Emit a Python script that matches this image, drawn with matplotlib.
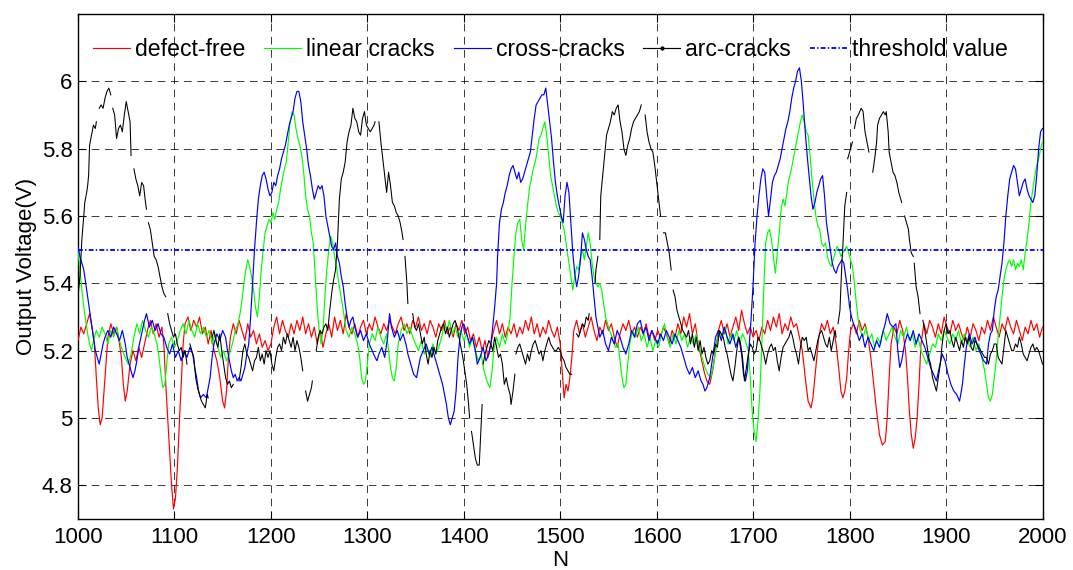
import numpy as np
import matplotlib
matplotlib.use("Agg")
import matplotlib.pyplot as plt
from matplotlib.ticker import FuncFormatter
from matplotlib.lines import Line2D

nan = float("nan")

# ---------------- data (N, output voltage) ----------------
defect_free = [
    (1000, 5.23), (1003, 5.27), (1006, 5.25), (1009, 5.28), (1012, 5.31), (1015, 5.26), (1017, 5.22),
    (1019, 5.12), (1021, 5.03), (1023, 4.98), (1025, 5.00), (1027, 5.08), (1029, 5.16), (1031, 5.24),
    (1034, 5.28), (1037, 5.25), (1040, 5.27), (1043, 5.22), (1045, 5.18), (1047, 5.10), (1049, 5.05),
    (1051, 5.08), (1054, 5.16), (1057, 5.20), (1060, 5.17), (1063, 5.21), (1066, 5.18), (1069, 5.22),
    (1072, 5.26), (1075, 5.29), (1078, 5.25), (1081, 5.28), (1084, 5.24), (1087, 5.27), (1089, 5.22),
    (1091, 5.10), (1093, 5.00), (1095, 4.90), (1097, 4.80), (1099, 4.73), (1101, 4.76), (1103, 4.85),
    (1105, 4.98), (1107, 5.10), (1109, 5.22), (1111, 5.28), (1114, 5.30), (1117, 5.26), (1120, 5.29),
    (1123, 5.27), (1126, 5.30), (1129, 5.25), (1132, 5.27), (1135, 5.22), (1138, 5.26), (1141, 5.20),
    (1144, 5.17), (1147, 5.12), (1150, 5.05), (1152, 5.03), (1154, 5.08), (1156, 5.18), (1158, 5.24),
    (1161, 5.28), (1164, 5.25), (1167, 5.29), (1170, 5.26), (1173, 5.23), (1176, 5.28), (1179, 5.24),
    (1182, 5.26), (1185, 5.22), (1188, 5.25), (1191, 5.21), (1194, 5.23), (1197, 5.20), (1200, 5.22),
    (1203, 5.27), (1206, 5.30), (1209, 5.25), (1212, 5.29), (1215, 5.26), (1218, 5.24), (1221, 5.28),
    (1224, 5.25), (1227, 5.29), (1230, 5.26), (1233, 5.30), (1236, 5.25), (1239, 5.28), (1242, 5.24),
    (1245, 5.27), (1248, 5.22), (1251, 5.26), (1254, 5.21), (1257, 5.25), (1260, 5.28), (1263, 5.24),
    (1266, 5.30), (1269, 5.26), (1272, 5.29), (1275, 5.25), (1278, 5.31), (1281, 5.27), (1284, 5.25),
    (1287, 5.28), (1290, 5.24), (1293, 5.27), (1296, 5.29), (1299, 5.25), (1302, 5.28), (1305, 5.26),
    (1308, 5.30), (1311, 5.27), (1314, 5.25), (1317, 5.28), (1320, 5.26), (1323, 5.29), (1326, 5.27),
    (1329, 5.25), (1332, 5.28), (1335, 5.30), (1338, 5.26), (1341, 5.28), (1344, 5.25), (1347, 5.29),
    (1350, 5.27), (1353, 5.30), (1356, 5.26), (1359, 5.28), (1362, 5.25), (1365, 5.29), (1368, 5.27),
    (1371, 5.24), (1374, 5.28), (1377, 5.26), (1380, 5.29), (1383, 5.25), (1386, 5.27), (1389, 5.24),
    (1392, 5.28), (1395, 5.26), (1398, 5.29), (1401, 5.25), (1404, 5.27), (1407, 5.23), (1410, 5.25),
    (1413, 5.21), (1416, 5.24), (1419, 5.20), (1422, 5.23), (1425, 5.18), (1428, 5.22), (1431, 5.26),
    (1434, 5.29), (1437, 5.25), (1440, 5.28), (1443, 5.24), (1446, 5.27), (1449, 5.25), (1452, 5.28),
    (1455, 5.24), (1458, 5.27), (1461, 5.25), (1464, 5.29), (1467, 5.26), (1470, 5.30), (1473, 5.25),
    (1476, 5.28), (1479, 5.24), (1482, 5.27), (1485, 5.25), (1488, 5.29), (1491, 5.26), (1494, 5.24),
    (1497, 5.27), (1500, 5.22), (1502, 5.14), (1504, 5.06), (1506, 5.10), (1508, 5.08), (1510, 5.12),
    (1512, 5.18), (1514, 5.26), (1517, 5.29), (1520, 5.25), (1523, 5.28), (1526, 5.24), (1529, 5.27),
    (1532, 5.30), (1535, 5.26), (1538, 5.23), (1541, 5.27), (1544, 5.25), (1547, 5.29), (1550, 5.26),
    (1553, 5.28), (1556, 5.24), (1559, 5.21), (1562, 5.25), (1565, 5.28), (1568, 5.26), (1571, 5.29),
    (1574, 5.25), (1577, 5.27), (1580, 5.24), (1583, 5.27), (1586, 5.25), (1589, 5.28), (1592, 5.24),
    (1595, 5.26), (1598, 5.23), (1601, 5.26), (1604, 5.24), (1607, 5.27), (1610, 5.25), (1613, 5.22),
    (1616, 5.26), (1619, 5.24), (1622, 5.28), (1625, 5.25), (1628, 5.30), (1631, 5.27), (1634, 5.31),
    (1637, 5.25), (1640, 5.28), (1643, 5.22), (1646, 5.18), (1649, 5.14), (1652, 5.11), (1655, 5.10),
    (1658, 5.14), (1661, 5.20), (1664, 5.26), (1667, 5.29), (1670, 5.25), (1673, 5.28), (1676, 5.24),
    (1679, 5.27), (1682, 5.30), (1685, 5.26), (1688, 5.32), (1691, 5.28), (1694, 5.25), (1697, 5.27),
    (1700, 5.24), (1703, 5.26), (1706, 5.23), (1709, 5.27), (1712, 5.25), (1715, 5.29), (1718, 5.26),
    (1721, 5.30), (1724, 5.27), (1727, 5.31), (1730, 5.25), (1733, 5.28), (1736, 5.26), (1739, 5.30),
    (1742, 5.27), (1745, 5.28), (1748, 5.24), (1751, 5.20), (1754, 5.12), (1757, 5.05), (1760, 5.03),
    (1762, 5.06), (1765, 5.15), (1768, 5.24), (1771, 5.28), (1774, 5.26), (1777, 5.29), (1780, 5.25),
    (1783, 5.27), (1786, 5.22), (1789, 5.14), (1791, 5.08), (1793, 5.06), (1795, 5.08), (1797, 5.12),
    (1799, 5.20), (1801, 5.26), (1804, 5.28), (1807, 5.25), (1810, 5.29), (1813, 5.26), (1816, 5.28),
    (1819, 5.24), (1822, 5.18), (1825, 5.10), (1828, 5.02), (1831, 4.95), (1834, 4.92), (1837, 4.93),
    (1839, 5.00), (1841, 5.12), (1843, 5.22), (1846, 5.27), (1849, 5.25), (1852, 5.29), (1855, 5.26),
    (1858, 5.20), (1860, 5.12), (1862, 5.02), (1864, 4.95), (1866, 4.91), (1868, 4.94), (1870, 5.00),
    (1872, 5.10), (1874, 5.22), (1877, 5.28), (1880, 5.25), (1883, 5.29), (1886, 5.27), (1889, 5.24),
    (1892, 5.28), (1895, 5.25), (1898, 5.30), (1901, 5.27), (1904, 5.25), (1907, 5.29), (1910, 5.26),
    (1913, 5.28), (1916, 5.25), (1919, 5.23), (1922, 5.27), (1925, 5.24), (1928, 5.28), (1931, 5.26),
    (1934, 5.23), (1937, 5.27), (1940, 5.25), (1943, 5.29), (1946, 5.26), (1949, 5.30), (1952, 5.27),
    (1955, 5.24), (1958, 5.28), (1961, 5.26), (1964, 5.30), (1967, 5.27), (1970, 5.25), (1973, 5.29),
    (1976, 5.26), (1979, 5.23), (1982, 5.27), (1985, 5.25), (1988, 5.29), (1991, 5.26), (1994, 5.28),
    (1997, 5.24), (2000, 5.27),
]

linear_cracks = [
    (1000, 5.50), (1002, 5.44), (1004, 5.38), (1006, 5.33), (1008, 5.29), (1010, 5.25), (1012, 5.22),
    (1014, 5.20), (1016, 5.23), (1019, 5.26), (1022, 5.24), (1025, 5.27), (1028, 5.25), (1031, 5.22),
    (1034, 5.26), (1037, 5.24), (1040, 5.27), (1043, 5.23), (1046, 5.20), (1049, 5.18), (1052, 5.16),
    (1055, 5.19), (1058, 5.24), (1061, 5.28), (1064, 5.25), (1067, 5.29), (1070, 5.26), (1073, 5.24),
    (1076, 5.27), (1079, 5.25), (1082, 5.22), (1084, 5.18), (1086, 5.13), (1088, 5.09), (1090, 5.10),
    (1092, 5.16), (1094, 5.22), (1097, 5.24), (1100, 5.21), (1103, 5.23), (1106, 5.26), (1109, 5.28),
    (1112, 5.25), (1115, 5.29), (1118, 5.26), (1121, 5.24), (1124, 5.28), (1127, 5.25), (1130, 5.27),
    (1133, 5.24), (1136, 5.26), (1139, 5.22), (1142, 5.25), (1145, 5.21), (1148, 5.18), (1151, 5.20),
    (1154, 5.17), (1157, 5.19), (1160, 5.22), (1163, 5.26), (1166, 5.28), (1168, 5.31), (1170, 5.35),
    (1172, 5.40), (1174, 5.44), (1176, 5.47), (1178, 5.45), (1180, 5.42), (1182, 5.38), (1184, 5.33),
    (1186, 5.30), (1188, 5.36), (1190, 5.44), (1192, 5.50), (1194, 5.55), (1196, 5.57), (1198, 5.59),
    (1200, 5.58), (1202, 5.61), (1204, 5.59), (1206, 5.62), (1208, 5.64), (1210, 5.68), (1212, 5.71),
    (1214, 5.74), (1216, 5.76), (1218, 5.82), (1220, 5.88), (1222, 5.91), (1224, 5.90), (1226, 5.86),
    (1228, 5.83), (1230, 5.81), (1232, 5.78), (1234, 5.73), (1236, 5.66), (1238, 5.62), (1240, 5.60),
    (1242, 5.55), (1244, 5.52), (1246, 5.42), (1248, 5.33), (1250, 5.26), (1252, 5.22), (1254, 5.26),
    (1256, 5.36), (1258, 5.44), (1260, 5.50), (1262, 5.54), (1264, 5.52), (1266, 5.48), (1268, 5.45),
    (1270, 5.41), (1272, 5.37), (1274, 5.34), (1276, 5.30), (1278, 5.26), (1281, 5.24), (1284, 5.27),
    (1287, 5.25), (1290, 5.22), (1292, 5.18), (1294, 5.12), (1296, 5.10), (1298, 5.11), (1300, 5.16),
    (1302, 5.22), (1305, 5.25), (1308, 5.23), (1311, 5.27), (1314, 5.24), (1317, 5.22), (1320, 5.25),
    (1322, 5.20), (1324, 5.15), (1326, 5.12), (1328, 5.11), (1330, 5.15), (1332, 5.22), (1335, 5.26),
    (1338, 5.28), (1341, 5.25), (1344, 5.27), (1347, 5.24), (1350, 5.22), (1353, 5.20), (1356, 5.23),
    (1359, 5.19), (1362, 5.21), (1365, 5.18), (1368, 5.22), (1371, 5.19), (1374, 5.21), (1377, 5.24),
    (1380, 5.28), (1383, 5.26), (1385, 5.29), (1388, 5.25), (1391, 5.27), (1394, 5.24), (1397, 5.26),
    (1400, 5.23), (1403, 5.25), (1406, 5.21), (1409, 5.24), (1412, 5.20), (1415, 5.17), (1418, 5.19),
    (1421, 5.14), (1424, 5.11), (1427, 5.09), (1429, 5.13), (1431, 5.20), (1434, 5.24), (1437, 5.21),
    (1440, 5.25), (1443, 5.22), (1446, 5.26), (1448, 5.30), (1450, 5.40), (1452, 5.48), (1454, 5.55),
    (1456, 5.58), (1458, 5.59), (1460, 5.53), (1462, 5.50), (1464, 5.57), (1466, 5.63), (1468, 5.68),
    (1470, 5.71), (1472, 5.74), (1474, 5.76), (1476, 5.79), (1478, 5.83), (1480, 5.84), (1482, 5.86),
    (1484, 5.88), (1486, 5.84), (1488, 5.78), (1490, 5.72), (1492, 5.69), (1494, 5.66), (1496, 5.63),
    (1498, 5.61), (1500, 5.60), (1502, 5.58), (1504, 5.56), (1506, 5.52), (1508, 5.48), (1510, 5.44),
    (1512, 5.40), (1513, 5.38), (1515, 5.42), (1517, 5.45), (1519, 5.44), (1521, 5.48), (1523, 5.50),
    (1525, 5.47), (1527, 5.51), (1529, 5.55), (1531, 5.52), (1533, 5.46), (1535, 5.42), (1537, 5.40),
    (1539, 5.39), (1541, 5.40), (1543, 5.38), (1545, 5.34), (1547, 5.30), (1549, 5.28), (1551, 5.26),
    (1554, 5.24), (1557, 5.21), (1560, 5.22), (1562, 5.17), (1564, 5.12), (1566, 5.09), (1568, 5.10),
    (1570, 5.16), (1572, 5.22), (1575, 5.26), (1578, 5.24), (1581, 5.27), (1584, 5.23), (1587, 5.25),
    (1590, 5.21), (1593, 5.24), (1596, 5.20), (1599, 5.23), (1602, 5.21), (1605, 5.25), (1608, 5.28),
    (1611, 5.24), (1614, 5.21), (1617, 5.25), (1620, 5.22), (1623, 5.26), (1626, 5.23), (1629, 5.25),
    (1632, 5.21), (1635, 5.24), (1638, 5.22), (1641, 5.25), (1644, 5.21), (1647, 5.18), (1650, 5.15),
    (1653, 5.13), (1656, 5.12), (1659, 5.16), (1662, 5.22), (1665, 5.26), (1668, 5.24), (1671, 5.27),
    (1674, 5.22), (1677, 5.25), (1680, 5.23), (1683, 5.26), (1686, 5.22), (1689, 5.25), (1692, 5.23),
    (1695, 5.20), (1697, 5.12), (1699, 5.02), (1701, 4.96), (1703, 4.93), (1705, 4.99), (1707, 5.08),
    (1709, 5.22), (1711, 5.38), (1713, 5.52), (1715, 5.55), (1717, 5.56), (1719, 5.53), (1721, 5.48),
    (1723, 5.43), (1725, 5.49), (1727, 5.55), (1729, 5.62), (1731, 5.65), (1733, 5.63), (1735, 5.67),
    (1737, 5.71), (1739, 5.73), (1741, 5.76), (1743, 5.79), (1745, 5.82), (1747, 5.85), (1749, 5.88),
    (1751, 5.90), (1753, 5.88), (1755, 5.85), (1757, 5.84), (1759, 5.78), (1761, 5.71), (1763, 5.65),
    (1765, 5.60), (1767, 5.57), (1769, 5.56), (1771, 5.52), (1773, 5.51), (1775, 5.52), (1777, 5.48),
    (1779, 5.46), (1781, 5.45), (1783, 5.47), (1785, 5.49), (1787, 5.51), (1789, 5.50), (1791, 5.48),
    (1793, 5.49), (1795, 5.50), (1797, 5.51), (1799, 5.49), (1801, 5.47), (1803, 5.45), (1805, 5.40),
    (1807, 5.34), (1809, 5.29), (1811, 5.26), (1814, 5.24), (1817, 5.27), (1820, 5.23), (1823, 5.25),
    (1826, 5.21), (1829, 5.24), (1832, 5.22), (1835, 5.26), (1838, 5.23), (1841, 5.25), (1844, 5.27),
    (1847, 5.24), (1850, 5.22), (1853, 5.26), (1856, 5.24), (1859, 5.27), (1862, 5.23), (1865, 5.25),
    (1868, 5.21), (1871, 5.24), (1874, 5.20), (1877, 5.18), (1880, 5.16), (1883, 5.19), (1886, 5.22),
    (1889, 5.21), (1892, 5.25), (1895, 5.23), (1898, 5.26), (1901, 5.24), (1904, 5.22), (1907, 5.25),
    (1910, 5.23), (1913, 5.26), (1916, 5.22), (1919, 5.25), (1922, 5.23), (1925, 5.21), (1928, 5.24),
    (1931, 5.20), (1934, 5.22), (1937, 5.18), (1940, 5.14), (1942, 5.10), (1944, 5.06), (1946, 5.05),
    (1948, 5.07), (1950, 5.12), (1952, 5.17), (1954, 5.24), (1956, 5.30), (1958, 5.36), (1960, 5.41),
    (1962, 5.44), (1964, 5.46), (1966, 5.47), (1968, 5.45), (1970, 5.47), (1972, 5.44), (1974, 5.46),
    (1976, 5.45), (1978, 5.47), (1980, 5.44), (1982, 5.49), (1984, 5.53), (1986, 5.58), (1988, 5.64),
    (1990, 5.68), (1992, 5.72), (1994, 5.75), (1996, 5.77), (1998, 5.80), (2000, 5.82),
]

cross_cracks = [
    (1000, 5.51), (1002, 5.48), (1004, 5.46), (1006, 5.44), (1008, 5.40), (1010, 5.36), (1012, 5.32),
    (1014, 5.28), (1016, 5.24), (1018, 5.20), (1020, 5.18), (1022, 5.16), (1024, 5.19), (1026, 5.22),
    (1028, 5.24), (1031, 5.26), (1034, 5.24), (1037, 5.27), (1040, 5.25), (1043, 5.23), (1046, 5.26),
    (1049, 5.22), (1051, 5.18), (1053, 5.16), (1055, 5.14), (1057, 5.12), (1059, 5.14), (1061, 5.17),
    (1063, 5.21), (1066, 5.25), (1069, 5.29), (1071, 5.31), (1074, 5.27), (1077, 5.29), (1080, 5.26),
    (1083, 5.28), (1086, 5.25), (1089, 5.24), (1092, 5.21), (1095, 5.19), (1098, 5.22), (1101, 5.18),
    (1104, 5.20), (1107, 5.17), (1110, 5.20), (1113, 5.18), (1116, 5.21), (1119, 5.19), (1121, 5.15),
    (1123, 5.12), (1125, 5.08), (1127, 5.06), (1130, 5.07), (1133, 5.06), (1135, 5.09), (1137, 5.12),
    (1139, 5.18), (1141, 5.22), (1144, 5.25), (1147, 5.23), (1150, 5.26), (1153, 5.24), (1155, 5.20),
    (1157, 5.17), (1159, 5.14), (1161, 5.12), (1163, 5.13), (1165, 5.11), (1167, 5.12), (1169, 5.11),
    (1171, 5.13), (1173, 5.15), (1175, 5.19), (1177, 5.22), (1179, 5.30), (1181, 5.40), (1183, 5.50),
    (1185, 5.58), (1187, 5.65), (1189, 5.69), (1191, 5.72), (1193, 5.73), (1195, 5.71), (1197, 5.68),
    (1199, 5.66), (1201, 5.67), (1203, 5.70), (1205, 5.69), (1207, 5.72), (1209, 5.74), (1211, 5.77),
    (1213, 5.79), (1215, 5.81), (1217, 5.84), (1219, 5.87), (1221, 5.89), (1223, 5.91), (1225, 5.95),
    (1227, 5.97), (1229, 5.97), (1231, 5.94), (1233, 5.88), (1235, 5.84), (1237, 5.80), (1239, 5.75),
    (1241, 5.72), (1243, 5.68), (1245, 5.65), (1247, 5.67), (1249, 5.69), (1251, 5.68), (1253, 5.69),
    (1255, 5.66), (1257, 5.60), (1259, 5.57), (1261, 5.54), (1263, 5.51), (1265, 5.50), (1267, 5.52),
    (1269, 5.48), (1271, 5.46), (1273, 5.42), (1275, 5.39), (1277, 5.34), (1279, 5.30), (1281, 5.27),
    (1283, 5.29), (1285, 5.30), (1287, 5.27), (1290, 5.24), (1293, 5.26), (1296, 5.23), (1299, 5.25),
    (1302, 5.22), (1305, 5.20), (1308, 5.18), (1310, 5.17), (1312, 5.19), (1315, 5.21), (1318, 5.18),
    (1321, 5.24), (1323, 5.31), (1325, 5.27), (1328, 5.24), (1331, 5.26), (1334, 5.23), (1337, 5.25),
    (1340, 5.22), (1342, 5.19), (1344, 5.17), (1346, 5.15), (1348, 5.13), (1351, 5.12), (1353, 5.15),
    (1355, 5.18), (1358, 5.20), (1361, 5.22), (1364, 5.19), (1367, 5.21), (1370, 5.18), (1372, 5.16),
    (1374, 5.14), (1376, 5.12), (1378, 5.10), (1380, 5.07), (1382, 5.04), (1384, 5.00), (1386, 4.98),
    (1388, 5.00), (1390, 5.02), (1392, 5.08), (1394, 5.18), (1396, 5.24), (1398, 5.27), (1400, 5.28),
    (1403, 5.25), (1406, 5.22), (1409, 5.24), (1412, 5.20), (1414, 5.16), (1417, 5.18), (1420, 5.21),
    (1423, 5.17), (1426, 5.19), (1428, 5.22), (1430, 5.27), (1432, 5.33), (1434, 5.40), (1435, 5.48),
    (1437, 5.58), (1439, 5.62), (1441, 5.64), (1443, 5.67), (1445, 5.69), (1447, 5.72), (1449, 5.74),
    (1451, 5.75), (1453, 5.73), (1455, 5.71), (1457, 5.73), (1459, 5.70), (1461, 5.71), (1463, 5.73),
    (1465, 5.75), (1467, 5.77), (1469, 5.79), (1471, 5.84), (1473, 5.89), (1475, 5.93), (1477, 5.94),
    (1479, 5.95), (1481, 5.96), (1483, 5.96), (1485, 5.98), (1487, 5.93), (1489, 5.88), (1491, 5.83),
    (1493, 5.76), (1495, 5.70), (1497, 5.66), (1499, 5.63), (1501, 5.60), (1503, 5.58), (1505, 5.66),
    (1507, 5.70), (1509, 5.67), (1511, 5.58), (1513, 5.49), (1515, 5.43), (1517, 5.39), (1519, 5.42),
    (1521, 5.47), (1523, 5.55), (1525, 5.53), (1527, 5.50), (1529, 5.48), (1531, 5.47), (1533, 5.42),
    (1535, 5.36), (1537, 5.30), (1539, 5.27), (1541, 5.24), (1544, 5.26), (1547, 5.22), (1550, 5.20),
    (1553, 5.24), (1556, 5.22), (1559, 5.26), (1562, 5.24), (1565, 5.21), (1568, 5.19), (1571, 5.22),
    (1574, 5.26), (1577, 5.24), (1580, 5.28), (1583, 5.29), (1586, 5.25), (1589, 5.27), (1592, 5.23),
    (1595, 5.26), (1598, 5.24), (1601, 5.22), (1604, 5.25), (1607, 5.23), (1610, 5.26), (1613, 5.24),
    (1616, 5.22), (1619, 5.25), (1622, 5.23), (1625, 5.21), (1628, 5.18), (1631, 5.15), (1634, 5.13),
    (1637, 5.15), (1640, 5.12), (1643, 5.14), (1646, 5.11), (1648, 5.10), (1650, 5.08), (1652, 5.09),
    (1655, 5.12), (1658, 5.18), (1661, 5.24), (1664, 5.26), (1667, 5.23), (1670, 5.27), (1673, 5.24),
    (1676, 5.22), (1679, 5.25), (1682, 5.21), (1685, 5.24), (1688, 5.19), (1690, 5.13), (1692, 5.11),
    (1694, 5.14), (1696, 5.22), (1698, 5.30), (1700, 5.40), (1702, 5.52), (1704, 5.60), (1706, 5.66),
    (1708, 5.71), (1710, 5.74), (1712, 5.73), (1714, 5.66), (1716, 5.60), (1718, 5.65), (1720, 5.70),
    (1722, 5.72), (1724, 5.73), (1726, 5.75), (1728, 5.77), (1730, 5.80), (1732, 5.83), (1734, 5.86),
    (1736, 5.88), (1738, 5.91), (1740, 5.95), (1742, 5.98), (1744, 6.00), (1746, 6.03), (1748, 6.04),
    (1750, 6.00), (1752, 5.93), (1754, 5.85), (1756, 5.78), (1758, 5.72), (1760, 5.66), (1762, 5.62),
    (1764, 5.64), (1766, 5.67), (1768, 5.69), (1770, 5.71), (1772, 5.72), (1774, 5.66), (1776, 5.58),
    (1778, 5.54), (1780, 5.50), (1782, 5.46), (1784, 5.44), (1786, 5.43), (1788, 5.45), (1790, 5.46),
    (1792, 5.47), (1794, 5.46), (1796, 5.42), (1798, 5.38), (1800, 5.33), (1802, 5.30), (1804, 5.28),
    (1807, 5.26), (1810, 5.23), (1813, 5.25), (1816, 5.21), (1819, 5.24), (1822, 5.22), (1825, 5.20),
    (1828, 5.23), (1831, 5.21), (1834, 5.25), (1837, 5.28), (1839, 5.31), (1842, 5.28), (1845, 5.27),
    (1848, 5.28), (1850, 5.20), (1852, 5.15), (1854, 5.17), (1857, 5.22), (1860, 5.25), (1863, 5.23),
    (1866, 5.26), (1869, 5.22), (1872, 5.25), (1875, 5.23), (1878, 5.21), (1881, 5.18), (1884, 5.15),
    (1887, 5.13), (1890, 5.11), (1893, 5.15), (1896, 5.19), (1899, 5.17), (1902, 5.13), (1905, 5.10),
    (1908, 5.08), (1911, 5.07), (1914, 5.05), (1917, 5.10), (1919, 5.16), (1921, 5.21), (1924, 5.25),
    (1927, 5.22), (1930, 5.24), (1933, 5.21), (1936, 5.19), (1939, 5.17), (1942, 5.16), (1944, 5.22),
    (1946, 5.25), (1948, 5.26), (1950, 5.32), (1952, 5.36), (1954, 5.38), (1956, 5.42), (1958, 5.46),
    (1960, 5.52), (1962, 5.60), (1964, 5.66), (1966, 5.71), (1968, 5.73), (1970, 5.75), (1972, 5.74),
    (1974, 5.70), (1976, 5.66), (1978, 5.68), (1980, 5.70), (1982, 5.71), (1984, 5.68), (1986, 5.66),
    (1988, 5.65), (1990, 5.64), (1992, 5.66), (1994, 5.72), (1996, 5.80), (1998, 5.85), (2000, 5.86),
]

# arc-cracks trace has breaks in the recording (nan = missing sample)
arc_cracks = [
    (1000, 5.36), (1002, 5.42), (1004, 5.53), (1006, 5.60), (1007, 5.64), (1009, 5.67), (1010, 5.69),
    (1011, 5.72), (1012, 5.81), (1014, 5.84), (1016, 5.87), (1018, 5.86), (1019, 5.88), (1020.5, nan),
    (1022, 5.92), (1024, 5.93), (1026, 5.92), (1028, 5.95), (1030, 5.97), (1032, 5.98), (1034, 5.96),
    (1035, nan), (1036, 5.92), (1038, 5.90), (1040, 5.83), (1042, 5.86), (1044, 5.87), (1046, 5.85),
    (1048, 5.90), (1050, 5.94), (1052, 5.91), (1054, 5.88), (1055, 5.78), (1056.5, nan), (1058, 5.74),
    (1060, 5.71), (1062, 5.69), (1064, 5.66), (1066, 5.70), (1068, 5.69), (1070, 5.64), (1071, 5.62),
    (1072, nan), (1073, 5.58), (1075, 5.56), (1077, 5.52), (1079, 5.48), (1081, 5.47), (1083, 5.45),
    (1085, 5.42), (1087, 5.39), (1089, 5.37), (1091, 5.36), (1092, nan), (1093, 5.31), (1095, 5.28),
    (1097, 5.26), (1099, 5.24), (1101, 5.25), (1103, 5.22), (1105, 5.20), (1107, 5.21), (1109, 5.18),
    (1111, 5.20), (1113, 5.16), (1114.5, nan), (1116, 5.22), (1118, 5.20), (1120, 5.18), (1122, 5.12),
    (1124, 5.09), (1126, 5.07), (1128, 5.05), (1130, 5.04), (1132, 5.03), (1134, 5.07), (1135, 5.06),
    (1137, nan), (1139, 5.24), (1141, 5.26), (1143, 5.23), (1145, 5.21), (1147, 5.25), (1149, 5.20),
    (1151, 5.16), (1153, 5.12), (1155, 5.10), (1157, 5.11), (1159, 5.09), (1161, 5.10), (1164, nan),
    (1167, 5.11), (1169, 5.15), (1171, 5.20), (1173, 5.22), (1175, 5.19), (1177, 5.18), (1179, 5.16),
    (1181, 5.14), (1183, 5.17), (1185, 5.18), (1187, 5.21), (1189, 5.17), (1191, 5.19), (1193, 5.16),
    (1195, 5.20), (1197, 5.18), (1199, 5.20), (1201, 5.16), (1203, 5.14), (1205, 5.18), (1207, 5.21),
    (1209, 5.22), (1211, 5.20), (1213, 5.24), (1215, 5.22), (1217, 5.25), (1219, 5.23), (1221, 5.21),
    (1223, 5.24), (1225, 5.20), (1227, 5.23), (1229, 5.21), (1231, 5.18), (1233, 5.14), (1235, nan),
    (1236, 5.08), (1238, 5.05), (1240, 5.07), (1242, 5.09), (1243, 5.11), (1245, nan), (1247, 5.20),
    (1249, 5.24), (1251, 5.26), (1253, 5.25), (1255, 5.27), (1257, 5.28), (1259, 5.26), (1261, 5.32),
    (1263, 5.37), (1265, 5.41), (1267, 5.44), (1269, 5.52), (1271, 5.65), (1273, 5.71), (1275, 5.73),
    (1277, 5.76), (1279, 5.82), (1281, 5.85), (1283, 5.87), (1285, 5.92), (1287, 5.89), (1289, 5.88),
    (1291, 5.85), (1293, 5.84), (1295, 5.89), (1297, 5.91), (1299, 5.87), (1301, 5.86), (1303, 5.85),
    (1305, 5.86), (1307, 5.87), (1308, 5.88), (1310, nan), (1312, 5.88), (1314, 5.82), (1316, 5.77),
    (1318, 5.72), (1320, 5.67), (1322, 5.73), (1324, 5.69), (1326, 5.64), (1328, 5.63), (1330, 5.61),
    (1332, 5.60), (1334, 5.58), (1336, 5.55), (1337, 5.53), (1338, nan), (1339, 5.48), (1341, 5.40),
    (1342, 5.34), (1344.5, nan), (1347, 5.31), (1349, 5.27), (1351, 5.26), (1353, 5.28), (1355, 5.25),
    (1357, 5.22), (1359, 5.24), (1361, 5.19), (1363, 5.16), (1365, 5.20), (1367, 5.18), (1369, 5.21),
    (1371, 5.19), (1373, 5.23), (1375, 5.25), (1377, 5.27), (1379, 5.28), (1381, 5.25), (1383, 5.27),
    (1385, 5.24), (1387, 5.26), (1389, 5.28), (1391, 5.29), (1393, 5.27), (1395, 5.24), (1397, 5.21),
    (1399, 5.18), (1401, 5.14), (1403, 5.10), (1405, 5.04), (1406, 5.00), (1407, nan), (1408, 4.96),
    (1410, 4.92), (1412, 4.88), (1414, 4.86), (1416, 4.86), (1418, 4.98), (1419, 5.04), (1419.6, nan),
    (1420, 5.16), (1422, 5.19), (1424, 5.21), (1426, 5.23), (1428, 5.22), (1430, 5.20), (1432, 5.24),
    (1434, 5.21), (1436, 5.18), (1438, 5.19), (1440, 5.16), (1442, 5.10), (1444, 5.12), (1446, 5.09),
    (1448, 5.07), (1449, 5.04), (1451, 5.08), (1453, 5.13), (1453.6, nan), (1454, 5.19), (1456, 5.21),
    (1458, 5.22), (1460, 5.20), (1462, 5.18), (1464, 5.16), (1466, 5.19), (1468, 5.17), (1470, 5.20),
    (1472, 5.22), (1474, 5.23), (1476, 5.21), (1478, 5.19), (1480, 5.20), (1482, 5.17), (1484, 5.20),
    (1486, 5.22), (1488, 5.24), (1490, 5.22), (1492, 5.21), (1494, 5.20), (1496, 5.20), (1498, 5.21),
    (1500, 5.20), (1502, 5.18), (1504, 5.17), (1506, 5.15), (1508, 5.14), (1510, 5.13), (1512, 5.13),
    (1514.5, nan), (1517, 5.25), (1519, 5.24), (1521, 5.26), (1523, 5.28), (1525, 5.27), (1527, 5.30),
    (1529, 5.29), (1530, 5.31), (1533, nan), (1536, 5.40), (1537, 5.44), (1539, 5.48), (1540, nan),
    (1541, 5.53), (1542, 5.66), (1544, 5.72), (1546, 5.78), (1548, 5.84), (1550, 5.86), (1552, 5.88),
    (1554, 5.91), (1556, 5.90), (1558, 5.92), (1560, 5.93), (1562, 5.88), (1564, 5.85), (1566, 5.80),
    (1568, 5.78), (1570, 5.81), (1572, 5.83), (1574, 5.86), (1576, 5.88), (1578, 5.89), (1580, 5.90),
    (1582, 5.91), (1584, 5.93), (1586, nan), (1588, 5.90), (1590, 5.85), (1592, 5.82), (1594, 5.80),
    (1596, 5.79), (1598, 5.75), (1600, 5.70), (1602, 5.65), (1604, 5.60), (1605.5, nan), (1607, 5.55),
    (1609, 5.55), (1611, 5.52), (1613, 5.49), (1615, 5.44), (1616, nan), (1617, 5.38), (1619, 5.36),
    (1621, 5.32), (1623, 5.30), (1625, 5.28), (1627, 5.26), (1629, 5.25), (1631, 5.24), (1633, 5.26),
    (1635, 5.22), (1637, 5.25), (1639, 5.21), (1641, 5.24), (1643, 5.20), (1645, 5.23), (1647, 5.19),
    (1649, 5.21), (1651, 5.18), (1653, 5.16), (1655, 5.17), (1657, 5.20), (1659, 5.19), (1661, 5.22),
    (1663, 5.21), (1665, 5.26), (1667, 5.25), (1669, 5.24), (1671, 5.21), (1673, 5.19), (1675, 5.16),
    (1677, 5.13), (1679, 5.11), (1681, 5.15), (1683, 5.20), (1685, 5.24), (1687, 5.22), (1689, 5.18),
    (1691, 5.11), (1693, 5.15), (1695, 5.19), (1697, 5.22), (1699, 5.21), (1701, 5.19), (1703, 5.20),
    (1705, 5.24), (1707, 5.23), (1709, 5.21), (1711, 5.19), (1713, 5.16), (1715, 5.19), (1717, 5.21),
    (1719, 5.22), (1721, 5.20), (1723, 5.21), (1725, 5.17), (1727, 5.14), (1729, 5.18), (1731, 5.21),
    (1733, 5.22), (1735, 5.23), (1737, 5.24), (1739, 5.26), (1741, 5.24), (1743, 5.21), (1745, 5.19),
    (1747, 5.16), (1749, 5.21), (1751, 5.24), (1753, 5.23), (1755, 5.24), (1757, 5.20), (1759, 5.21),
    (1761, 5.19), (1763, 5.17), (1765, 5.20), (1767, 5.23), (1769, 5.25), (1771, 5.26), (1773, 5.24),
    (1775, 5.22), (1777, 5.21), (1779, 5.24), (1781, 5.20), (1783, 5.23), (1785, 5.26), (1786, 5.24),
    (1787, nan), (1788, 5.28), (1790, 5.32), (1792, 5.46), (1793, 5.51), (1795, 5.63), (1797, 5.67),
    (1797.5, nan), (1798, 5.77), (1800, 5.79), (1802, 5.81), (1803, 5.82), (1804, nan), (1805, 5.86),
    (1807, 5.89), (1809, 5.90), (1812, 5.92), (1814, 5.91), (1816, 5.85), (1818, 5.82), (1820, 5.79),
    (1822, nan), (1824, 5.73), (1826, 5.77), (1828, 5.82), (1829, 5.87), (1831, 5.89), (1833, 5.90),
    (1835, 5.91), (1837, 5.90), (1838, 5.91), (1840, 5.85), (1841, 5.79), (1843, 5.76), (1845, 5.73),
    (1847, 5.72), (1849, 5.70), (1851, 5.67), (1853, 5.65), (1854, 5.64), (1855.5, nan), (1857, 5.60),
    (1859, 5.58), (1861, 5.56), (1862, 5.53), (1864, 5.49), (1866, 5.48), (1866.5, nan), (1867, 5.46),
    (1869, 5.39), (1871, 5.36), (1873, 5.31), (1874.5, nan), (1876, 5.29), (1878, 5.26), (1880, 5.22),
    (1882, 5.18), (1884, 5.16), (1886, 5.12), (1888, 5.10), (1890, 5.08), (1892, 5.12), (1894, 5.16),
    (1896, 5.22), (1898, 5.26), (1900, 5.28), (1902, 5.25), (1904, 5.26), (1906, 5.23), (1908, 5.21),
    (1910, 5.24), (1912, 5.22), (1914, 5.20), (1916, 5.23), (1918, 5.21), (1920, 5.24), (1922, 5.22),
    (1924, 5.24), (1926, 5.21), (1928, 5.20), (1930, 5.23), (1932, 5.22), (1934, 5.21), (1936, 5.20),
    (1938, 5.19), (1940, 5.18), (1942, 5.18), (1944, 5.16), (1946, 5.19), (1948, 5.20), (1950, 5.22),
    (1952, 5.22), (1954, 5.18), (1956, 5.17), (1958, 5.16), (1960, 5.21), (1962, 5.26), (1964, 5.24),
    (1966, 5.22), (1968, 5.20), (1970, 5.20), (1972, 5.22), (1974, 5.21), (1976, 5.24), (1978, 5.22),
    (1980, 5.19), (1982, 5.18), (1984, 5.17), (1986, 5.19), (1988, 5.21), (1990, 5.22), (1992, 5.20),
    (1994, 5.21), (1996, 5.20), (1998, 5.18), (2000, 5.16),
]

threshold_value = 5.5
n_range = [1000, 2000]
series_labels = ["defect-free", "linear cracks", "cross-cracks", "arc-cracks", "threshold value"]
x_ticks = [1000, 1100, 1200, 1300, 1400, 1500, 1600, 1700, 1800, 1900, 2000]
y_ticks = [4.8, 5.0, 5.2, 5.4, 5.6, 5.8, 6.0]

# ---------------- figure ----------------
plt.rcParams["font.family"] = ["Liberation Sans", "DejaVu Sans"]
plt.rcParams["lines.scale_dashes"] = False
FS = 16
FS_LEG = 16.6

fig = plt.figure(figsize=(10.73, 5.70), dpi=100)
ax = fig.add_axes([78 / 1073, 1 - 519 / 570, (1042.5 - 78) / 1073, (519 - 14) / 570])


def xy(pairs):
    arr = np.array(pairs, dtype=float)
    return arr[:, 0], arr[:, 1]


lw = 0.85
x, y = xy(defect_free)
ax.plot(x, y, color=(1, 0, 0), lw=lw, zorder=3)
x, y = xy(linear_cracks)
ax.plot(x, y, color=(0, 1, 0), lw=lw, zorder=3)
x, y = xy(cross_cracks)
ax.plot(x, y, color=(0, 0, 1), lw=lw, zorder=3)
x, y = xy(arc_cracks)
ax.plot(x, y, color="black", lw=lw * 0.9, zorder=3)
thr_style = (0, (3.5, 1.6, 1.0, 1.6))
ax.plot(n_range, [threshold_value, threshold_value], color=(0, 0, 1), lw=1.3,
        linestyle=thr_style, zorder=3)

ax.set_xlim(1000, 2000)
ax.set_ylim(4.7, 6.2)
ax.set_xticks(x_ticks)
ax.set_yticks(y_ticks)
ax.yaxis.set_major_formatter(FuncFormatter(lambda v, p: "%g" % round(v, 2)))
ax.tick_params(direction="in", top=True, right=True, length=6, width=0.8,
               labelsize=FS, pad=4)
ax.tick_params(axis="x", pad=6)
ax.grid(True, color="black", linewidth=0.6, linestyle=(0, (5.5, 4)), alpha=0.9)
ax.set_axisbelow(True)
for s in ax.spines.values():
    s.set_linewidth(1.0)

ax.set_xlabel("N", fontsize=FS, labelpad=1)
ax.set_ylabel("Output Voltage(V)", fontsize=FS, labelpad=3)

handles = [
    Line2D([], [], color=(1, 0, 0), lw=lw),
    Line2D([], [], color=(0, 1, 0), lw=lw),
    Line2D([], [], color=(0, 0, 1), lw=lw),
    Line2D([], [], color="black", lw=lw, marker=".", markersize=4),
    Line2D([], [], color=(0, 0, 1), lw=1.3, linestyle=thr_style),
]
leg = ax.legend(handles, series_labels, loc="upper left", bbox_to_anchor=(0.006, 0.971),
                ncol=5, frameon=False, fontsize=FS_LEG, handlelength=1.6,
                handletextpad=0.22, columnspacing=0.82, borderaxespad=0.0,
                borderpad=0.4, numpoints=1)

fig.savefig("out.png", dpi=100)
